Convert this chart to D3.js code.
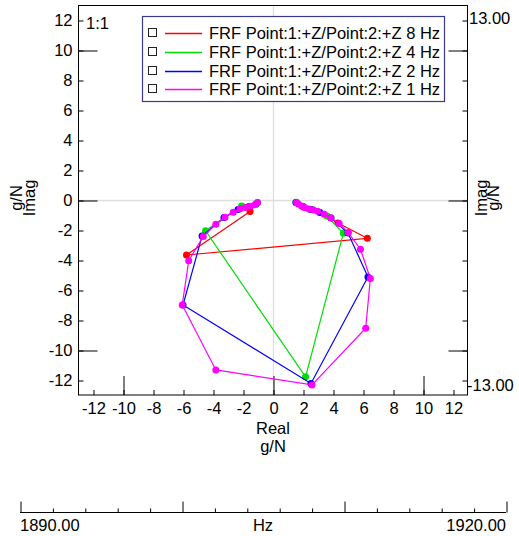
<!DOCTYPE html>
<html><head><meta charset="utf-8">
<script src="https://cdn.jsdelivr.net/npm/d3@7"></script>
<style>
body{margin:0;background:#fff;}
svg{display:block;font-family:"Liberation Sans",Arial,sans-serif;}
</style>
</head><body>
<svg id="c" width="519" height="536"></svg>
<script>
// ---- data ----
const seriesNames = [
  "FRF Point:1:+Z/Point:2:+Z 8 Hz",
  "FRF Point:1:+Z/Point:2:+Z 4 Hz",
  "FRF Point:1:+Z/Point:2:+Z 2 Hz",
  "FRF Point:1:+Z/Point:2:+Z 1 Hz"
];
const seriesColors = ["#ff0000", "#00dd00", "#0000ff", "#ff00ff"];

// [Real, Imag] in g/N
const res8Hz = [[4.33,-1.53],[6.29,-2.55],[-5.77,-3.67],[-1.53,-0.77]];
const res4Hz = [[1.53,-0.15],[2.6,-0.63],[3.6,-1.07],[4.69,-2.22],[2.17,-11.79],[-4.5,-2.05],[-2.09,-0.4],[-1.03,-0.17]];
const res2Hz = [[1.53,-0.17],[2.0,-0.43],[2.53,-0.63],[3.13,-0.83],[3.87,-1.2],[5.0,-2.2],[6.33,-5.13],[2.53,-12.23],
                [-6.0,-7.0],[-4.73,-2.4],[-3.27,-1.17],[-2.33,-0.63],[-1.6,-0.43],[-1.13,-0.27]];
const res1Hz = [[1.57,-0.17],[1.69,-0.27],[1.91,-0.4],[2.13,-0.51],[2.4,-0.6],[2.69,-0.67],[2.98,-0.75],[3.42,-0.95],
                [3.85,-1.19],[4.41,-1.57],[5.02,-2.17],[5.83,-3.28],[6.49,-5.23],[6.18,-8.55],[2.6,-12.33],[-3.81,-11.33],
                [-6.05,-7.0],[-5.62,-4.05],[-4.65,-2.43],[-3.81,-1.62],[-3.2,-1.15],[-2.65,-0.81],[-2.2,-0.59],
                [-1.83,-0.5],[-1.5,-0.42],[-1.2,-0.31],[-1.03,-0.17]];
const seriesData = [res8Hz, res4Hz, res2Hz, res1Hz];

const axisTicks = [-12,-10,-8,-6,-4,-2,0,2,4,6,8,10,12];
const majorTicks = [-10,0,10];
const rightAxisLabels = ["13.00","-13.00"];
const freqMinorTicks = [1892,1894,1896,1898,1902,1904,1906,1908,1912,1914,1916,1918];
const freqMajorTicks = [1890,1900,1910,1920];
const freqLabels = ["1890.00","Hz","1920.00"];

// ---- layout ----
const svg = d3.select("#c");
const FS = "16.5px";
const L = 78.5, R = 467.5, T = 5.5, B = 395;
const x = d3.scaleLinear().domain([-13,13]).range([78,468]);
const y = d3.scaleLinear().domain([-13,13]).range([395,5]);
const fmt = d => String(d);

// grid at zero
svg.append("line").attr("x1", x(0)+0.5).attr("x2", x(0)+0.5).attr("y1", T).attr("y2", B)
  .attr("stroke", "#dedede").attr("stroke-width", 1.3);
svg.append("line").attr("x1", L).attr("x2", R).attr("y1", y(0)+0.5).attr("y2", y(0)+0.5)
  .attr("stroke", "#dedede").attr("stroke-width", 1.3);

// frame
svg.append("rect").attr("x", L).attr("y", T).attr("width", R-L).attr("height", B-T)
  .attr("fill", "none").attr("stroke", "#000").attr("stroke-width", 1);

function styleAxis(g){
  g.select(".domain").remove();
  g.selectAll("text").attr("font-size", FS).attr("fill", "#000").attr("font-family", '"Liberation Sans",Arial,sans-serif');
  g.selectAll("line").attr("stroke", "#000");
}

// bottom axis
svg.append("g").attr("transform", `translate(0.5,${B})`)
  .call(d3.axisBottom(x).tickValues(axisTicks).tickSize(-5).tickPadding(7).tickFormat(fmt))
  .call(styleAxis);
svg.append("g").attr("transform", `translate(0.5,${B})`)
  .call(d3.axisBottom(x).tickValues(majorTicks).tickSize(-19).tickFormat(""))
  .call(styleAxis);

// left axis
svg.append("g").attr("transform", `translate(${L},0.5)`)
  .call(d3.axisLeft(y).tickValues(axisTicks).tickSize(-5).tickPadding(6).tickFormat(fmt))
  .call(styleAxis);
svg.append("g").attr("transform", `translate(${L},0.5)`)
  .call(d3.axisLeft(y).tickValues(majorTicks).tickSize(-19).tickFormat(""))
  .call(styleAxis);

// right axis
svg.append("g").attr("transform", `translate(${R},0.5)`)
  .call(d3.axisRight(y).tickValues(axisTicks).tickSize(-5).tickFormat(""))
  .call(styleAxis);
svg.append("g").attr("transform", `translate(${R},0.5)`)
  .call(d3.axisRight(y).tickValues(majorTicks).tickSize(-19).tickFormat(""))
  .call(styleAxis);

svg.append("text").attr("x", 469).attr("y", 24).attr("font-size", FS).text(rightAxisLabels[0]);
svg.append("text").attr("x", 467).attr("y", 391).attr("font-size", FS).text(rightAxisLabels[1]);

// axis titles
svg.append("text").attr("x", x(0)).attr("y", 434).attr("text-anchor", "middle").attr("font-size", FS).text("Real");
svg.append("text").attr("x", x(0)).attr("y", 452).attr("text-anchor", "middle").attr("font-size", FS).text("g/N");

function vText(tx, ty, s){
  svg.append("text").attr("transform", `translate(${tx},${ty}) rotate(-90)`)
    .attr("text-anchor", "middle").attr("font-size", FS).text(s);
}
vText(22, 198, "g/N");
vText(35, 198, "Imag");
vText(487, 198, "Imag");
vText(499, 198, "g/N");

svg.append("text").attr("x", 86).attr("y", 29).attr("font-size", FS).text("1:1");

// series
const line = d3.line().x(d => x(d[0])).y(d => y(d[1]));
seriesData.forEach((data, i) => {
  const g = svg.append("g");
  g.append("path").datum(data).attr("d", line).attr("fill", "none")
    .attr("stroke", seriesColors[i]).attr("stroke-width", 1.2);
  g.selectAll("circle").data(data).join("circle")
    .attr("cx", d => x(d[0])).attr("cy", d => y(d[1])).attr("r", 3.5)
    .attr("fill", seriesColors[i]);
});

// legend
const lg = svg.append("g");
lg.append("rect").attr("x", 142.5).attr("y", 16.5).attr("width", 302).attr("height", 85)
  .attr("fill", "#fff").attr("stroke", "#3a3a8c").attr("stroke-width", 1.2);
seriesNames.forEach((nm, i) => {
  const cy = Math.round(33.3 + i*18.7);
  lg.append("rect").attr("x", 148.5).attr("y", cy-4.5).attr("width", 8).attr("height", 8)
    .attr("fill", "#fff").attr("stroke", "#222").attr("stroke-width", 1);
  lg.append("line").attr("x1", 165).attr("x2", 202).attr("y1", cy+0.5).attr("y2", cy+0.5)
    .attr("stroke", seriesColors[i]).attr("stroke-width", 1.5);
  lg.append("text").attr("x", 209).attr("y", cy).attr("dy", "0.35em").attr("font-size", FS).text(nm);
});

// frequency axis
const f = d3.scaleLinear().domain([1890,1920]).range([20,506]);
svg.append("line").attr("x1", 20).attr("x2", 506).attr("y1", 512.5).attr("y2", 512.5).attr("stroke", "#000");
svg.append("g").attr("transform", "translate(0.5,512.5)")
  .call(d3.axisTop(f).tickValues(freqMinorTicks).tickSize(4).tickFormat(""))
  .call(styleAxis);
svg.append("g").attr("transform", "translate(0.5,512.5)")
  .call(d3.axisTop(f).tickValues(freqMajorTicks).tickSize(11).tickFormat(""))
  .call(styleAxis);
svg.append("text").attr("x", 20).attr("y", 531).attr("font-size", FS).text(freqLabels[0]);
svg.append("text").attr("x", 263).attr("y", 531).attr("text-anchor", "middle").attr("font-size", FS).text(freqLabels[1]);
svg.append("text").attr("x", 506).attr("y", 531).attr("text-anchor", "end").attr("font-size", FS).text(freqLabels[2]);
</script>
</body></html>
